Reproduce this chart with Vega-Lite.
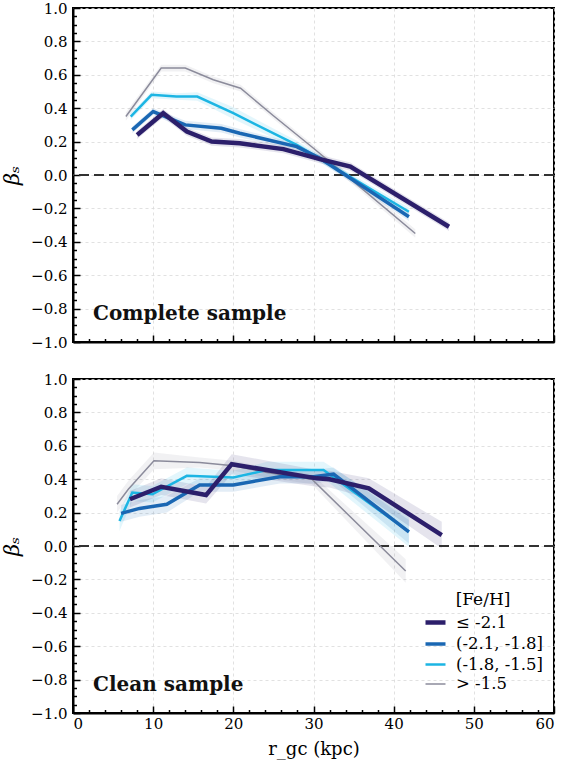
{
  "$schema": "https://vega.github.io/schema/vega-lite/v6.json",
  "padding": {"left": 0, "top": 0, "right": 5, "bottom": 0},
  "background": "white",
  "config": {
    "font": "DejaVu Serif",
    "view": {"stroke": "black", "strokeWidth": 2},
    "axis": {"labelFont": "DejaVu Serif", "titleFont": "DejaVu Serif", "labelColor": "black", "titleColor": "black"},
    "legend": {"labelFont": "DejaVu Serif", "titleFont": "DejaVu Serif"}
  },
  "data": {"values": [
    {"p":"c","g":"> -1.5","r":6.6,"b":0.35,"lo":0.325,"hi":0.375},
    {"p":"c","g":"> -1.5","r":11.0,"b":0.64,"lo":0.62,"hi":0.66},
    {"p":"c","g":"> -1.5","r":14.0,"b":0.64,"lo":0.62,"hi":0.66},
    {"p":"c","g":"> -1.5","r":17.5,"b":0.57,"lo":0.55,"hi":0.59},
    {"p":"c","g":"> -1.5","r":20.9,"b":0.52,"lo":0.5,"hi":0.54},
    {"p":"c","g":"> -1.5","r":25.0,"b":0.355,"lo":0.335,"hi":0.375},
    {"p":"c","g":"> -1.5","r":30.0,"b":0.16,"lo":0.14,"hi":0.18},
    {"p":"c","g":"> -1.5","r":35.0,"b":-0.04,"lo":-0.06,"hi":-0.02},
    {"p":"c","g":"> -1.5","r":42.7,"b":-0.35,"lo":-0.375,"hi":-0.325},
    {"p":"c","g":"(-1.8, -1.5]","r":7.2,"b":0.35,"lo":0.33,"hi":0.37},
    {"p":"c","g":"(-1.8, -1.5]","r":9.8,"b":0.48,"lo":0.46,"hi":0.5},
    {"p":"c","g":"(-1.8, -1.5]","r":12.9,"b":0.47,"lo":0.45,"hi":0.49},
    {"p":"c","g":"(-1.8, -1.5]","r":15.5,"b":0.47,"lo":0.445,"hi":0.495},
    {"p":"c","g":"(-1.8, -1.5]","r":20.0,"b":0.37,"lo":0.335,"hi":0.405},
    {"p":"c","g":"(-1.8, -1.5]","r":27.9,"b":0.18,"lo":0.155,"hi":0.205},
    {"p":"c","g":"(-1.8, -1.5]","r":34.2,"b":0.0,"lo":-0.02,"hi":0.02},
    {"p":"c","g":"(-1.8, -1.5]","r":41.9,"b":-0.22,"lo":-0.245,"hi":-0.195},
    {"p":"c","g":"(-2.1, -1.8]","r":7.4,"b":0.27,"lo":0.25,"hi":0.29},
    {"p":"c","g":"(-2.1, -1.8]","r":10.0,"b":0.38,"lo":0.36,"hi":0.4},
    {"p":"c","g":"(-2.1, -1.8]","r":14.0,"b":0.3,"lo":0.275,"hi":0.325},
    {"p":"c","g":"(-2.1, -1.8]","r":18.5,"b":0.28,"lo":0.255,"hi":0.305},
    {"p":"c","g":"(-2.1, -1.8]","r":20.8,"b":0.25,"lo":0.225,"hi":0.275},
    {"p":"c","g":"(-2.1, -1.8]","r":27.9,"b":0.17,"lo":0.15,"hi":0.19},
    {"p":"c","g":"(-2.1, -1.8]","r":30.8,"b":0.1,"lo":0.08,"hi":0.12},
    {"p":"c","g":"(-2.1, -1.8]","r":41.9,"b":-0.25,"lo":-0.275,"hi":-0.225},
    {"p":"c","g":"≤ -2.1","r":8.0,"b":0.24,"lo":0.215,"hi":0.265},
    {"p":"c","g":"≤ -2.1","r":11.25,"b":0.37,"lo":0.345,"hi":0.395},
    {"p":"c","g":"≤ -2.1","r":14.2,"b":0.26,"lo":0.235,"hi":0.285},
    {"p":"c","g":"≤ -2.1","r":17.3,"b":0.2,"lo":0.175,"hi":0.225},
    {"p":"c","g":"≤ -2.1","r":20.8,"b":0.19,"lo":0.165,"hi":0.215},
    {"p":"c","g":"≤ -2.1","r":26.25,"b":0.155,"lo":0.13,"hi":0.18},
    {"p":"c","g":"≤ -2.1","r":30.8,"b":0.095,"lo":0.07,"hi":0.12},
    {"p":"c","g":"≤ -2.1","r":34.6,"b":0.05,"lo":0.025,"hi":0.075},
    {"p":"c","g":"≤ -2.1","r":46.9,"b":-0.31,"lo":-0.335,"hi":-0.285},
    {"p":"k","g":"> -1.5","r":5.5,"b":0.25,"lo":0.2,"hi":0.3},
    {"p":"k","g":"> -1.5","r":6.9,"b":0.34,"lo":0.29,"hi":0.39},
    {"p":"k","g":"> -1.5","r":10.1,"b":0.51,"lo":0.46,"hi":0.56},
    {"p":"k","g":"> -1.5","r":15.8,"b":0.5,"lo":0.47,"hi":0.53},
    {"p":"k","g":"> -1.5","r":20.0,"b":0.48,"lo":0.45,"hi":0.51},
    {"p":"k","g":"> -1.5","r":24.2,"b":0.44,"lo":0.41,"hi":0.47},
    {"p":"k","g":"> -1.5","r":29.8,"b":0.4,"lo":0.37,"hi":0.43},
    {"p":"k","g":"> -1.5","r":41.5,"b":-0.15,"lo":-0.22,"hi":-0.08},
    {"p":"k","g":"(-1.8, -1.5]","r":5.8,"b":0.15,"lo":0.09,"hi":0.21},
    {"p":"k","g":"(-1.8, -1.5]","r":7.4,"b":0.32,"lo":0.27,"hi":0.37},
    {"p":"k","g":"(-1.8, -1.5]","r":9.9,"b":0.31,"lo":0.26,"hi":0.36},
    {"p":"k","g":"(-1.8, -1.5]","r":14.2,"b":0.42,"lo":0.37,"hi":0.47},
    {"p":"k","g":"(-1.8, -1.5]","r":20.0,"b":0.41,"lo":0.37,"hi":0.45},
    {"p":"k","g":"(-1.8, -1.5]","r":24.2,"b":0.455,"lo":0.405,"hi":0.505},
    {"p":"k","g":"(-1.8, -1.5]","r":31.25,"b":0.455,"lo":0.405,"hi":0.505},
    {"p":"k","g":"(-1.8, -1.5]","r":41.9,"b":0.085,"lo":-0.005,"hi":0.175},
    {"p":"k","g":"(-2.1, -1.8]","r":6.0,"b":0.195,"lo":0.145,"hi":0.245},
    {"p":"k","g":"(-2.1, -1.8]","r":8.3,"b":0.225,"lo":0.175,"hi":0.275},
    {"p":"k","g":"(-2.1, -1.8]","r":11.7,"b":0.25,"lo":0.2,"hi":0.3},
    {"p":"k","g":"(-2.1, -1.8]","r":15.8,"b":0.365,"lo":0.325,"hi":0.405},
    {"p":"k","g":"(-2.1, -1.8]","r":20.0,"b":0.365,"lo":0.325,"hi":0.405},
    {"p":"k","g":"(-2.1, -1.8]","r":25.8,"b":0.415,"lo":0.375,"hi":0.455},
    {"p":"k","g":"(-2.1, -1.8]","r":30.0,"b":0.415,"lo":0.375,"hi":0.455},
    {"p":"k","g":"(-2.1, -1.8]","r":32.5,"b":0.43,"lo":0.39,"hi":0.47},
    {"p":"k","g":"(-2.1, -1.8]","r":41.9,"b":0.085,"lo":0.015,"hi":0.155},
    {"p":"k","g":"≤ -2.1","r":7.1,"b":0.28,"lo":0.23,"hi":0.33},
    {"p":"k","g":"≤ -2.1","r":11.0,"b":0.355,"lo":0.305,"hi":0.405},
    {"p":"k","g":"≤ -2.1","r":16.6,"b":0.305,"lo":0.255,"hi":0.355},
    {"p":"k","g":"≤ -2.1","r":19.8,"b":0.49,"lo":0.43,"hi":0.55},
    {"p":"k","g":"≤ -2.1","r":30.4,"b":0.405,"lo":0.355,"hi":0.455},
    {"p":"k","g":"≤ -2.1","r":32.0,"b":0.4,"lo":0.35,"hi":0.45},
    {"p":"k","g":"≤ -2.1","r":36.9,"b":0.345,"lo":0.285,"hi":0.405},
    {"p":"k","g":"≤ -2.1","r":46.0,"b":0.065,"lo":-0.015,"hi":0.145}
  ]},
  "spacing": 20,
  "resolve": {"legend": {"color": "independent", "strokeWidth": "independent", "fill": "independent"}},
  "vconcat": [
    {
      "width": 481, "height": 334,
      "transform": [{"filter": "datum.p === 'c'"}],
      "layer": [
        {
          "mark": {"type": "area", "opacity": 0.12},
          "encoding": {
            "x": {"field": "r", "type": "quantitative", "scale": {"domain": [0, 60], "nice": false},
              "axis": {"values": [0,2,4,6,8,10,12,14,16,18,20,22,24,26,28,30,32,34,36,38,40,42,44,46,48,50,52,54,56,58,60],
                "tickCount": 200, "labels": false, "title": null, "grid": true,
                "gridOpacity": {"condition": {"test": "datum.value % 10 === 0", "value": 1}, "value": 0},
                "gridDash": [3, 3], "gridColor": "#d9d9d9", "gridWidth": 0.8,
                "tickSize": {"condition": {"test": "datum.value % 10 === 0", "value": -7}, "value": -3.5},
                "tickColor": "black", "tickWidth": 1.5, "domainColor": "black", "domainWidth": 2}},
            "y": {"field": "lo", "type": "quantitative", "scale": {"domain": [-1, 1], "nice": false},
              "axis": {"values": [-1,-0.95,-0.9,-0.85,-0.8,-0.75,-0.7,-0.65,-0.6,-0.55,-0.5,-0.45,-0.4,-0.35,-0.3,-0.25,-0.2,-0.15,-0.1,-0.05,0,0.05,0.1,0.15,0.2,0.25,0.3,0.35,0.4,0.45,0.5,0.55,0.6,0.65,0.7,0.75,0.8,0.85,0.9,0.95,1],
                "tickCount": 200, "format": ".1f", "labelOverlap": false,
                "labelExpr": "abs(datum.value*5 - round(datum.value*5)) < 0.000001 ? datum.label : ''",
                "labelFontSize": 15, "labelPadding": 13,
                "title": "βₛ", "titleFontSize": 21, "titleFontStyle": "italic", "titleFontWeight": "normal", "titlePadding": 8,
                "grid": true,
                "gridOpacity": {"condition": {"test": "abs(datum.value*5 - round(datum.value*5)) < 0.000001", "value": 1}, "value": 0},
                "gridDash": [3, 3], "gridColor": "#d9d9d9", "gridWidth": 0.8,
                "tickSize": {"condition": {"test": "abs(datum.value*5 - round(datum.value*5)) < 0.000001", "value": -7}, "value": -3.5},
                "tickColor": "black", "tickWidth": 1.5, "domainColor": "black", "domainWidth": 2}},
            "y2": {"field": "hi"},
            "fill": {"field": "g", "type": "nominal",
              "scale": {"domain": ["> -1.5", "(-1.8, -1.5]", "(-2.1, -1.8]", "≤ -2.1"], "range": ["#8b8b9b", "#1cb5e3", "#1a67b3", "#2c1f6b"]},
              "legend": null}
          }
        },
        {
          "mark": {"type": "rule", "strokeDash": [10, 5], "color": "#333333", "strokeWidth": 1.5},
          "encoding": {"y": {"datum": 0, "type": "quantitative"}}
        },
        {
          "mark": {"type": "line"},
          "encoding": {
            "x": {"field": "r", "type": "quantitative"},
            "y": {"field": "b", "type": "quantitative"},
            "color": {"field": "g", "type": "nominal",
              "scale": {"domain": ["≤ -2.1", "(-2.1, -1.8]", "(-1.8, -1.5]", "> -1.5"], "range": ["#2c1f6b", "#1a67b3", "#1cb5e3", "#8b8b9b"]},
              "legend": null},
            "strokeWidth": {"field": "g", "type": "nominal",
              "scale": {"type": "ordinal", "domain": ["≤ -2.1", "(-2.1, -1.8]", "(-1.8, -1.5]", "> -1.5"], "range": [4.5, 3.5, 2.5, 1.5]},
              "legend": null}
          }
        },
        {
          "data": {"values": [{"label": "Complete sample", "x": 2.5, "y": -0.83}]},
          "mark": {"type": "text", "align": "left", "baseline": "middle", "fontSize": 20, "fontWeight": "bold", "font": "DejaVu Serif", "color": "#111111"},
          "encoding": {
            "x": {"field": "x", "type": "quantitative"},
            "y": {"field": "y", "type": "quantitative"},
            "text": {"field": "label"}
          }
        }
      ]
    },
    {
      "width": 481, "height": 334,
      "transform": [{"filter": "datum.p === 'k'"}],
      "layer": [
        {
          "mark": {"type": "area", "opacity": 0.12},
          "encoding": {
            "x": {"field": "r", "type": "quantitative", "scale": {"domain": [0, 60], "nice": false},
              "axis": {"values": [0,2,4,6,8,10,12,14,16,18,20,22,24,26,28,30,32,34,36,38,40,42,44,46,48,50,52,54,56,58,60],
                "tickCount": 200, "labelOverlap": false, "format": "d",
                "labelExpr": "datum.value % 10 === 0 ? datum.label : ''",
                "labelFontSize": 15, "labelPadding": 10,
                "title": "r_gc (kpc)", "titleFontSize": 18, "titleFontWeight": "normal", "titlePadding": 6,
                "grid": true,
                "gridOpacity": {"condition": {"test": "datum.value % 10 === 0", "value": 1}, "value": 0},
                "gridDash": [3, 3], "gridColor": "#d9d9d9", "gridWidth": 0.8,
                "tickSize": {"condition": {"test": "datum.value % 10 === 0", "value": -7}, "value": -3.5},
                "tickColor": "black", "tickWidth": 1.5, "domainColor": "black", "domainWidth": 2}},
            "y": {"field": "lo", "type": "quantitative", "scale": {"domain": [-1, 1], "nice": false},
              "axis": {"values": [-1,-0.95,-0.9,-0.85,-0.8,-0.75,-0.7,-0.65,-0.6,-0.55,-0.5,-0.45,-0.4,-0.35,-0.3,-0.25,-0.2,-0.15,-0.1,-0.05,0,0.05,0.1,0.15,0.2,0.25,0.3,0.35,0.4,0.45,0.5,0.55,0.6,0.65,0.7,0.75,0.8,0.85,0.9,0.95,1],
                "tickCount": 200, "format": ".1f", "labelOverlap": false,
                "labelExpr": "abs(datum.value*5 - round(datum.value*5)) < 0.000001 ? datum.label : ''",
                "labelFontSize": 15, "labelPadding": 13,
                "title": "βₛ", "titleFontSize": 21, "titleFontStyle": "italic", "titleFontWeight": "normal", "titlePadding": 8,
                "grid": true,
                "gridOpacity": {"condition": {"test": "abs(datum.value*5 - round(datum.value*5)) < 0.000001", "value": 1}, "value": 0},
                "gridDash": [3, 3], "gridColor": "#d9d9d9", "gridWidth": 0.8,
                "tickSize": {"condition": {"test": "abs(datum.value*5 - round(datum.value*5)) < 0.000001", "value": -7}, "value": -3.5},
                "tickColor": "black", "tickWidth": 1.5, "domainColor": "black", "domainWidth": 2}},
            "y2": {"field": "hi"},
            "fill": {"field": "g", "type": "nominal",
              "scale": {"domain": ["> -1.5", "(-1.8, -1.5]", "(-2.1, -1.8]", "≤ -2.1"], "range": ["#8b8b9b", "#1cb5e3", "#1a67b3", "#2c1f6b"]},
              "legend": null}
          }
        },
        {
          "mark": {"type": "rule", "strokeDash": [10, 5], "color": "#333333", "strokeWidth": 1.5},
          "encoding": {"y": {"datum": 0, "type": "quantitative"}}
        },
        {
          "mark": {"type": "line"},
          "encoding": {
            "x": {"field": "r", "type": "quantitative"},
            "y": {"field": "b", "type": "quantitative"},
            "color": {"field": "g", "type": "nominal",
              "scale": {"domain": ["≤ -2.1", "(-2.1, -1.8]", "(-1.8, -1.5]", "> -1.5"], "range": ["#2c1f6b", "#1a67b3", "#1cb5e3", "#8b8b9b"]},
              "legend": {"title": "[Fe/H]", "orient": "none", "legendX": 350, "legendY": 213,
                "titleFontSize": 17, "titleFontWeight": "normal", "titleColor": "black", "titleAnchor": "middle", "titlePadding": 1,
                "labelFontSize": 16.5, "labelColor": "black", "symbolType": "stroke", "symbolSize": 400,
                "rowPadding": 0, "labelOffset": 8}},
            "strokeWidth": {"field": "g", "type": "nominal",
              "scale": {"type": "ordinal", "domain": ["≤ -2.1", "(-2.1, -1.8]", "(-1.8, -1.5]", "> -1.5"], "range": [4.5, 3.5, 2.5, 1.5]},
              "legend": {"title": "[Fe/H]", "orient": "none", "legendX": 350, "legendY": 213,
                "titleFontSize": 17, "titleFontWeight": "normal", "titleColor": "black", "titleAnchor": "middle", "titlePadding": 1,
                "labelFontSize": 16.5, "labelColor": "black", "symbolType": "stroke", "symbolSize": 400,
                "rowPadding": 0, "labelOffset": 8}}
          }
        },
        {
          "data": {"values": [{"label": "Clean sample", "x": 2.5, "y": -0.83}]},
          "mark": {"type": "text", "align": "left", "baseline": "middle", "fontSize": 20, "fontWeight": "bold", "font": "DejaVu Serif", "color": "#111111"},
          "encoding": {
            "x": {"field": "x", "type": "quantitative"},
            "y": {"field": "y", "type": "quantitative"},
            "text": {"field": "label"}
          }
        }
      ]
    }
  ]
}
